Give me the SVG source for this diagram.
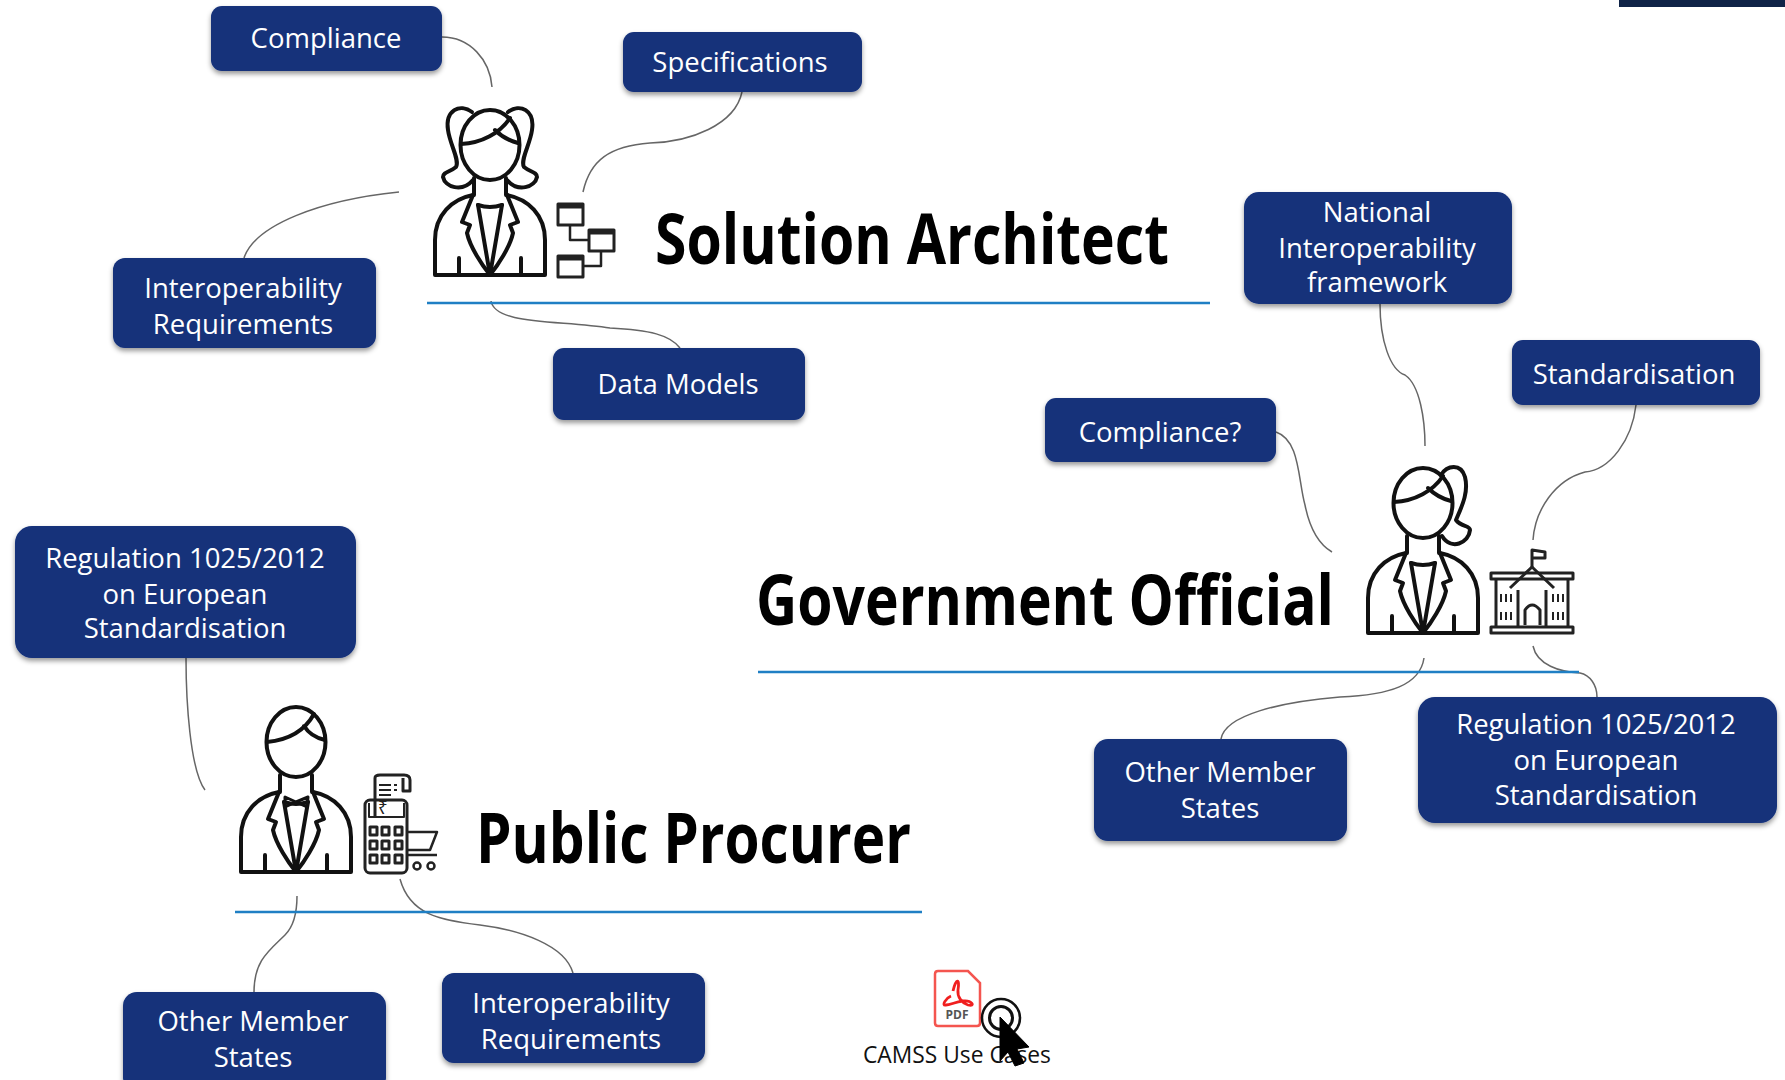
<svg xmlns="http://www.w3.org/2000/svg" xmlns:xlink="http://www.w3.org/1999/xlink" width="1785" height="1080" viewBox="0 0 1785 1080">
<style>
text{font-family:"Open Sans","Noto Sans","Liberation Sans",sans-serif}
.box{fill:#13307a;filter:url(#sh)}
.lbl{fill:#fff;font-size:27.500px;text-anchor:middle}
.title{fill:#000;font-size:70px;font-weight:700}
.con{fill:none;stroke:#666;stroke-width:1.500}
.rule{stroke:#1f7fc4;stroke-width:2.400}
.ic{fill:none;stroke:#111;stroke-width:4;stroke-linejoin:round;stroke-linecap:round}
.ic2{fill:none;stroke:#222;stroke-width:3;stroke-linejoin:round}
</style>
<defs>
<filter id="sh" x="-10%" y="-15%" width="120%" height="135%"><feDropShadow dx="0" dy="3" stdDeviation="2.500" flood-color="#000" flood-opacity=".4"/></filter>
<g id="jacket" class="ic">
<path d="M-55,0H55M-55,0V-35C-55,-60 -38,-76 -17,-80M55,0V-35C55,-60 38,-76 17,-80"/>
<path d="M-16,-97V-80M16,-97V-80M-12,-70Q0,-66 12,-70"/>
<path d="M-17,-80L-28,-53L-20,-50L-23,-42C-20,-28 -8,-10 0,0C8,-10 20,-28 23,-42L20,-50L28,-53L17,-80"/>
<path d="M-12,-70L0,0L12,-70M-31,0V-17M31,0V-17"/>
<ellipse cx="0" cy="-130" rx="29.500" ry="35"/>
</g>
<g id="hair" class="ic">
<path d="M-29,-131C-8,-132 10,-142 20,-157M5,-145C12,-138 20,-134 28,-132"/>
</g>
</defs>
<rect x="1619" y="0" width="166" height="7" fill="#0f2347"/>
<g id="connectors" class="connectors">
<path class="con" d="M442,37C470,37 490,60 492,87"/>
<path class="con" d="M742,92C735,125 690,142 650,143C610,146 590,160 583,192"/>
<path class="con" d="M244,258C255,225 320,200 399,192"/>
<path class="con" d="M491,301C495,325 560,320 610,328C650,330 670,335 680,348"/>
<path class="con" d="M1380,304C1380,340 1390,370 1405,375C1420,385 1425,420 1425,446"/>
<path class="con" d="M1636,405C1632,440 1610,470 1585,472C1555,480 1535,510 1533,540"/>
<path class="con" d="M1276,432C1300,440 1298,480 1305,505C1310,530 1320,545 1332,552"/>
<path class="con" d="M1221,739C1225,715 1280,702 1340,697C1390,695 1420,685 1424,658"/>
<path class="con" d="M1533,646C1537,665 1560,672 1580,673C1590,675 1597,685 1597,697"/>
<path class="con" d="M186,658C186,700 190,770 205,790"/>
<path class="con" d="M254,992C254,960 270,950 285,935C295,925 297,910 297,896"/>
<path class="con" d="M573,973C565,945 520,930 480,925C440,920 410,915 400,879"/>
</g>
<line class="rule" x1="427" y1="303" x2="1210" y2="303"/>
<line class="rule" x1="758" y1="672" x2="1579" y2="672"/>
<line class="rule" x1="235" y1="912" x2="922" y2="912"/>

<g id="solution-architect">
<use href="#jacket" transform="translate(490,275)"/><use href="#hair" transform="translate(490,275)"/>
<g class="ic" transform="translate(490,275)"><path d="M-18,-163C-30,-172 -45,-165 -42,-145C-40,-130 -30,-115 -34,-108C-40,-103 -47,-103 -47,-98C-45,-88 -28,-82 -17,-95"/><path d="M18,-163C30,-172 45,-165 42,-145C40,-130 30,-115 34,-108C40,-103 47,-103 47,-98C45,-88 28,-82 17,-95"/></g>
<g class="ic2"><rect x="558" y="204" width="25" height="21"/><rect x="589" y="230" width="25" height="21"/><rect x="558" y="256" width="25" height="21"/><path d="M570,225V240H589M601,251V266H583" stroke-width="2.500"/><path d="M558,206H583M589,232H614M558,258H583" stroke-width="5"/></g>
<text class="title" x="655" y="264" textLength="514" lengthAdjust="spacingAndGlyphs">Solution Architect</text>
</g>
<g id="government-official">
<use href="#jacket" transform="translate(1423,633)"/><use href="#hair" transform="translate(1423,633)"/>
<path class="ic" transform="translate(1423,633)" d="M18,-158C24,-168 38,-170 42,-156C46,-140 38,-125 33,-113C38,-106 47,-108 47,-103C46,-90 28,-82 19,-97"/>
<g class="ic2">
<path d="M1532,567V550L1545,552V558L1532,558"/>
<rect x="1491" y="573" width="82" height="6"/><rect x="1491" y="627" width="82" height="6"/>
<path d="M1510,588L1532,567L1554,588M1496,579V627M1518,590V627M1546,590V627M1568,579V627M1525,625V610Q1532,600 1540,610V625"/>
<path d="M1501,594V602M1506,594V602M1511,594V602M1501,612V620M1506,612V620M1511,612V620M1553,594V602M1558,594V602M1563,594V602M1553,612V620M1558,612V620M1563,612V620" stroke-width="2"/>
</g>
<text class="title" x="756" y="625" textLength="578" lengthAdjust="spacingAndGlyphs">Government Official</text>
</g>
<g id="public-procurer">
<use href="#jacket" transform="translate(296,872)"/>
<g class="ic" transform="translate(296,872)"><path d="M-29,-130C-8,-132 8,-140 18,-158M8,-146C13,-138 20,-134 29,-132"/><path d="M-11,-75L0,-70L12,-75L11,-65L0,-70L-11,-65Z" stroke-width="3"/></g>
<g class="ic2">
<rect x="365" y="800" width="42" height="73" rx="5"/>
<path d="M375,818V778Q375,775 380,775H404Q410,775 410,780V791H403V778M380,775H404"/>
<path d="M369,803V817H404V803" stroke-width="2"/>
<path d="M379,785H391M379,790H391M379,795H391M394,785H397M394,790H397" stroke-width="1.800"/>
<rect x="370" y="827" width="7" height="8"/><rect x="382" y="827" width="7" height="8"/><rect x="395" y="827" width="7" height="8"/>
<rect x="370" y="841" width="7" height="8"/><rect x="382" y="841" width="7" height="8"/><rect x="395" y="841" width="7" height="8"/>
<rect x="370" y="855" width="7" height="8"/><rect x="382" y="855" width="7" height="8"/><rect x="395" y="855" width="7" height="8"/>
<path d="M407,832H437L430,850H408M408,855H437" stroke-width="2.500"/>
<circle cx="417" cy="866" r="3.500" stroke-width="2.500"/><circle cx="431" cy="866" r="3.500" stroke-width="2.500"/>
</g>
<text x="378" y="814" font-size="17" fill="#222" font-family="'Noto Sans',sans-serif">₹</text>
<text class="title" x="476" y="863" textLength="435" lengthAdjust="spacingAndGlyphs">Public Procurer</text>
</g>

<g id="n-compliance"><rect class="box" x="211" y="6" width="231" height="65" rx="11"/><text class="lbl" x="326" y="48">Compliance</text></g>
<g id="n-specifications"><rect class="box" x="623" y="32" width="239" height="60" rx="11"/><text class="lbl" x="740" y="72">Specifications</text></g>
<g id="n-interop-1"><rect class="box" x="113" y="258" width="263" height="90" rx="12"/><text class="lbl" x="243" y="298">Interoperability</text><text class="lbl" x="243" y="334">Requirements</text></g>
<g id="n-data-models"><rect class="box" x="553" y="348" width="252" height="72" rx="11"/><text class="lbl" x="678" y="394">Data Models</text></g>
<g id="n-national"><rect class="box" x="1244" y="192" width="268" height="112" rx="15"/><text class="lbl" x="1377" y="222">National</text><text class="lbl" x="1377" y="258">Interoperability</text><text class="lbl" x="1377" y="292">framework</text></g>
<g id="n-standardisation"><rect class="box" x="1512" y="340" width="248" height="65" rx="11"/><text class="lbl" x="1634" y="384">Standardisation</text></g>
<g id="n-compliance-q"><rect class="box" x="1045" y="398" width="231" height="64" rx="11"/><text class="lbl" x="1160" y="442">Compliance?</text></g>
<g id="n-regulation-1"><rect class="box" x="15" y="526" width="341" height="132" rx="17"/><text class="lbl" x="185" y="568">Regulation 1025/2012</text><text class="lbl" x="185" y="604">on European</text><text class="lbl" x="185" y="638">Standardisation</text></g>
<g id="n-regulation-2"><rect class="box" x="1418" y="697" width="359" height="126" rx="17"/><text class="lbl" x="1596" y="734">Regulation 1025/2012</text><text class="lbl" x="1596" y="770">on European</text><text class="lbl" x="1596" y="805">Standardisation</text></g>
<g id="n-other-1"><rect class="box" x="1094" y="739" width="253" height="102" rx="14"/><text class="lbl" x="1220" y="782">Other Member</text><text class="lbl" x="1220" y="818">States</text></g>
<g id="n-other-2"><rect class="box" x="123" y="992" width="263" height="100" rx="14"/><text class="lbl" x="253" y="1031">Other Member</text><text class="lbl" x="253" y="1067">States</text></g>
<g id="n-interop-2"><rect class="box" x="442" y="973" width="263" height="90" rx="12"/><text class="lbl" x="571" y="1013">Interoperability</text><text class="lbl" x="571" y="1049">Requirements</text></g>

<g id="camss-use-cases">
<path d="M935,974Q935,971 938,971H968L980,983V1023Q980,1026 977,1026H938Q935,1026 935,1023Z" fill="#fff" stroke="#f4554f" stroke-width="2.500"/>
<path d="M953,991C956,978 960,978 958,990C957,997 962,1003 968,1005C976,1007 972,1000 963,1001C955,1002 950,1005 946,1005C941,1006 946,998 951,996" fill="none" stroke="#f01f1f" stroke-width="2.800"/>
<text x="957" y="1019" font-size="12" font-weight="700" fill="#555" text-anchor="middle">PDF</text>
<text x="863" y="1063" font-size="22.800" fill="#111">CAMSS Use Cases</text>
<circle cx="1001" cy="1018" r="19" fill="none" stroke="#111" stroke-width="2.500"/>
<circle cx="1001" cy="1018" r="11.500" fill="none" stroke="#111" stroke-width="3"/>
<path d="M1000,1017L1029,1047L1017,1049L1024,1063L1015,1066L1008,1052L1000,1061Z" fill="#000" stroke="#000" stroke-width="1"/>
</g>
</svg>
